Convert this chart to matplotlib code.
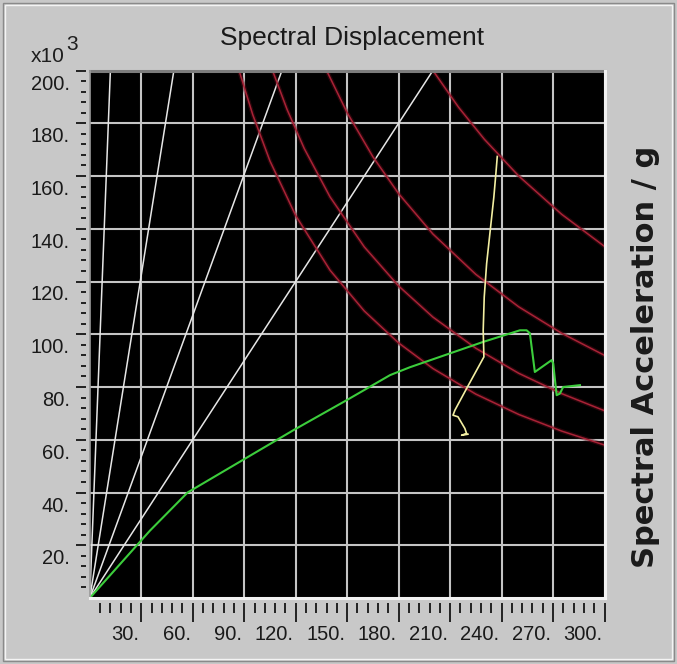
import matplotlib
matplotlib.use('Agg')
import matplotlib.pyplot as plt
import matplotlib.transforms as mtransforms
from matplotlib.lines import Line2D

plt.rcParams['font.family'] = ['Liberation Sans', 'DejaVu Sans']

# period lines through the origin: Sd at which each one reaches Sa = 200
period_top_x = [12, 49, 112, 200]
period_top_y = 200

# demand curves (Sd, Sa x10^3)
red_1_x = [87, 95, 105, 120, 140, 160, 180, 200, 225, 250, 275, 300]
red_1_y = [200, 183.2, 165.7, 145, 124.3, 108.8, 96.7, 87, 77.3, 69.6, 63.3, 58]
red_2_x = [106.5, 115, 125, 140, 160, 180, 200, 225, 250, 275, 300]
red_2_y = [200, 185.2, 170.4, 152.1, 133.1, 118.3, 106.5, 94.7, 85.2, 77.5, 71]
red_3_x = [138, 150, 165, 180, 200, 225, 250, 275, 300]
red_3_y = [200, 184, 167.3, 153.3, 138, 122.7, 110.4, 100.4, 92]
red_4_x = [200, 215, 230, 250, 275, 300]
red_4_y = [200, 186, 173.9, 160, 145.5, 133.3]

# capacity curve
green_x = [0, 35, 57, 118.6, 149.7, 175, 186.6, 229.3, 250.7, 254.6, 256.5,
           259.4, 269.2, 270.1, 272.1, 274.0, 275.9, 285.7]
green_y = [0, 25.5, 40, 63.6, 75, 84.5, 87.5, 97.1, 101.5, 101.5, 100.4,
           85.7, 90.2, 88.9, 76.9, 77.5, 80, 80.7]

# response trace
yellow_x = [237.5, 236.7, 235.5, 231.3, 229.9, 229.3, 229.7, 219.6, 212.8,
            211.7, 214.6, 218.6, 219.6, 216.7, 220.4]
yellow_y = [167.4, 161, 152, 126.8, 114.1, 101.5, 91.4, 79.4, 71.2,
            69.3, 68.7, 64.3, 62.4, 61.7, 62.1]

x_major = [30, 60, 90, 120, 150, 180, 210, 240, 270, 300]
x_labels = ['30.', '60.', '90.', '120.', '150.', '180.', '210.', '240.', '270.', '300.']
y_major = [20, 40, 60, 80, 100, 120, 140, 160, 180, 200]
y_labels = ['20.', '40.', '60.', '80.', '100.', '120.', '140.', '160.', '180.', '200.']

W, H = 677, 664
fig = plt.figure(figsize=(W / 100, H / 100), dpi=100, facecolor='#c8c8c8')

# groove frame round the panel
for inset, col in [(3, '#8a8a8a'), (5, '#f4f4f4')]:
    fig.add_artist(plt.Rectangle((inset / W, inset / H), 1 - 2 * inset / W, 1 - 2 * inset / H,
                                 transform=fig.transFigure, fill=False, ec=col, lw=1.0))

left, right, top, bottom = 89.8, 604.5, 70.5, 598
ax = fig.add_axes([left / W, 1 - bottom / H, (right - left) / W, (bottom - top) / H])
ax.set_facecolor('black')
ax.set_xlim(0, 300)
ax.set_ylim(0, 200)

ax.set_xticks(x_major, x_labels)
ax.set_xticks(range(6, 300, 6), minor=True)
ax.set_yticks(y_major, y_labels)
ax.set_yticks(range(4, 200, 4), minor=True)
ax.grid(True, which='major', color='#c4c4c4', lw=1.5, zorder=1)
ax.set_axisbelow(True)

for s in ax.spines.values():
    s.set_color('none')
ax.spines['bottom'].set_position(('outward', 3.5))
ax.spines['left'].set_position(('outward', 3))

ax.tick_params(axis='x', which='major', length=14, width=1.4, color='#222222',
               labelsize=14.5, labelcolor='#1a1a1a', pad=2)
ax.tick_params(axis='x', which='minor', length=7, width=1.4, color='#222222')
ax.tick_params(axis='y', which='major', length=7.5, width=1.4, color='#222222',
               labelsize=14.5, labelcolor='#1a1a1a', pad=4)
ax.tick_params(axis='y', which='minor', length=3.5, width=1.4, color='#222222')

dx = mtransforms.ScaledTranslation(-0.02, 0, fig.dpi_scale_trans)
for lab in ax.get_xticklabels():
    lab.set_horizontalalignment('right')
    lab.set_transform(lab.get_transform() + dx)
dy = mtransforms.ScaledTranslation(0, -0.04, fig.dpi_scale_trans)
for lab in ax.get_yticklabels():
    lab.set_verticalalignment('top')
    lab.set_transform(lab.get_transform() + dy)

# sunken border of the plot area
edges = [([0, 1], [1, 1], '#7c7c7c', 2.2), ([0, 0], [0, 1], '#9a9a9a', 1.2),
         ([0, 1], [0, 0], '#f2f2f2', 2.2), ([1, 1], [0, 1], '#f2f2f2', 2.2)]
for ex, ey, col, lw in edges:
    ax.add_line(Line2D(ex, ey, transform=ax.transAxes, color=col, lw=lw,
                       clip_on=False, zorder=5))

for xt in period_top_x:
    ax.plot([0, xt], [0, period_top_y], color='#e6e6e6', lw=1.1, zorder=2)

for rx, ry in [(red_1_x, red_1_y), (red_2_x, red_2_y), (red_3_x, red_3_y), (red_4_x, red_4_y)]:
    ax.plot(rx, ry, color='#5a0c18', lw=3.0, alpha=0.45, zorder=2)
    ax.plot(rx, ry, color='#a82236', lw=1.1, zorder=3)

ax.plot(green_x, green_y, color='#3ccd3c', lw=1.5, zorder=4)
ax.plot(yellow_x, yellow_y, color='#f2eea2', lw=1.2, zorder=4)

fig.text(352 / W, 1 - 38 / H, 'Spectral Displacement', ha='center', va='center',
         fontsize=19, color='#1a1a1a')
fig.text(65 / W, 1 - 62 / H, 'x10', ha='right', va='baseline', fontsize=15, color='#1e1e1e')
fig.text(66 / W, 1 - 50 / H, '3', ha='left', va='baseline', fontsize=15, color='#1e1e1e')
fig.text(645 / W, 1 - 357 / H, 'Spectral Acceleration / g', rotation=90,
         ha='center', va='center', fontsize=22, fontweight='bold',
         family=['DejaVu Sans'], color='#1a1a1a')

fig.savefig('out.png', dpi=100, facecolor=fig.get_facecolor())
